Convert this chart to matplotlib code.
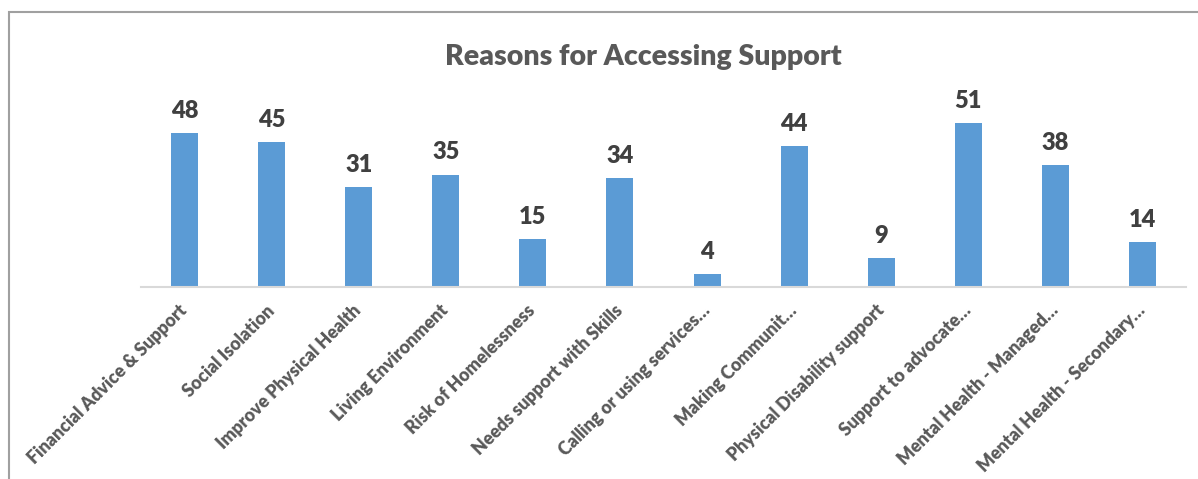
import matplotlib.pyplot as plt
from matplotlib.patches import Rectangle

plt.rcParams['font.family'] = ['Lato', 'DejaVu Sans']

# data
categories = ['Financial Advice & Support', 'Social Isolation', 'Improve Physical Health',
              'Living Environment', 'Risk of Homelessness', 'Needs support with Skills',
              'Calling or using services…', 'Making Communit…', 'Physical Disability support',
              'Support to advocate…', 'Mental Health - Managed…', 'Mental Health - Secondary…']
counts = [48, 45, 31, 35, 15, 34, 4, 44, 9, 51, 38, 14]

bar_color = '#5B9BD5'
text_grey = '#595959'

fig = plt.figure(figsize=(11.98, 4.79), dpi=100)

# chart frame (excel-style border, runs past right/bottom edge)
fig.patches.append(Rectangle((9 / 1198, -0.1), 1.2, 1 - 12 / 479 + 0.1,
                             transform=fig.transFigure, fill=False,
                             edgecolor='#A0A0A0', linewidth=1.5))

ax = fig.add_axes([141 / 1198, 1 - 287 / 479, (1186 - 141) / 1198, 0.4023])
x = range(len(categories))
bars = ax.bar(x, counts, width=0.31, color=bar_color)
ax.set_xlim(-0.5, len(categories) - 0.5)
ax.set_ylim(0, 60)

for rect, v in zip(bars, counts):
    ax.annotate(str(v), (rect.get_x() + rect.get_width() / 2, v),
                xytext=(0, 8), textcoords='offset points',
                ha='center', va='bottom', fontsize=17, fontweight='heavy', color='#404040')

for s in ['top', 'right', 'left']:
    ax.spines[s].set_visible(False)
ax.spines['bottom'].set_color('#D9D9D9')
ax.spines['bottom'].set_linewidth(1.5)
ax.set_yticks([])
ax.set_xticks(list(x))
ax.set_xticklabels(categories, rotation=45, ha='right', va='center',
                   rotation_mode='anchor', fontsize=12.8, fontweight='heavy', color=text_grey)
ax.tick_params(axis='x', length=0, pad=15)

fig.text(643 / 1198, 1 - 57 / 479, 'Reasons for Accessing Support', ha='center', va='center',
         fontsize=20.5, fontweight='heavy', color=text_grey)

fig.savefig('out.png', dpi=100)
